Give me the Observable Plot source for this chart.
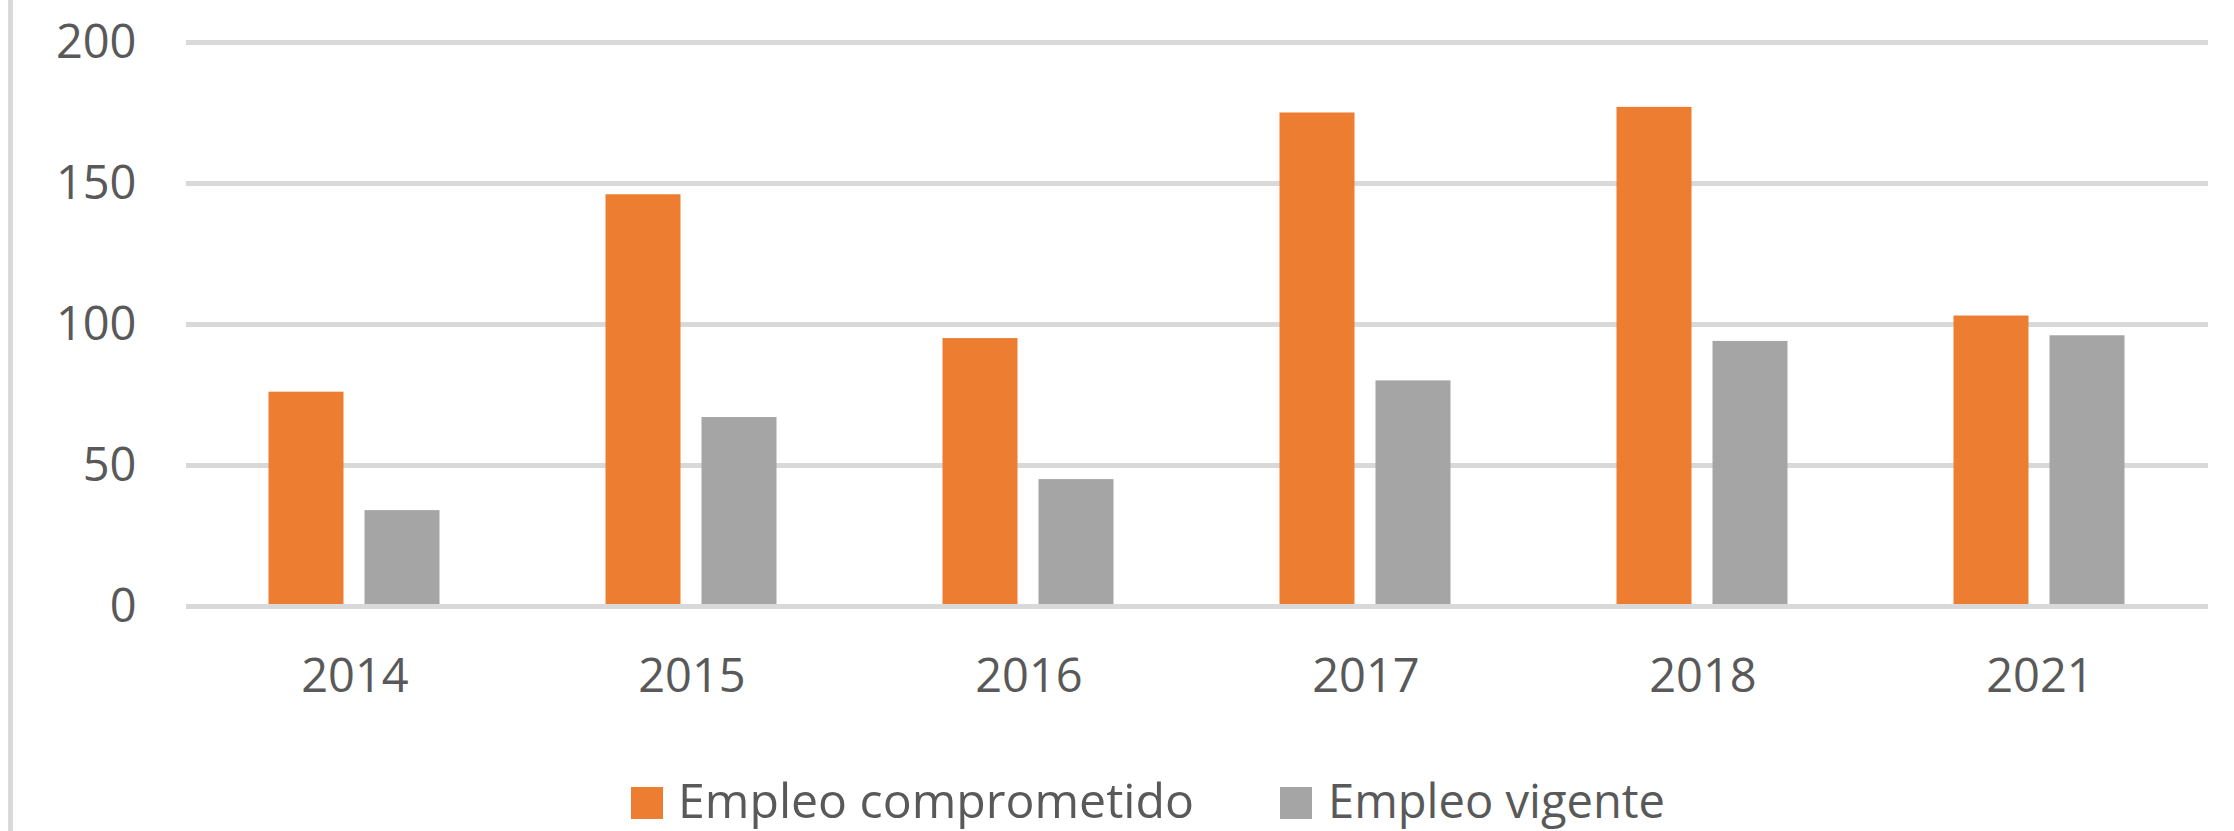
<!DOCTYPE html>
<html>
<head>
<meta charset="utf-8">
<script src="https://cdn.jsdelivr.net/npm/d3@7"></script>
<script src="https://cdn.jsdelivr.net/npm/@observablehq/plot@0.6"></script>
<style>
  html, body { margin: 0; padding: 0; background: #fff; }
  #wrap { position: relative; width: 2234px; height: 831px; overflow: hidden; background: #fff; }
  #border { position: absolute; left: 7.5px; top: 0; width: 5px; height: 831px; background: #d9d9d9; z-index: 2; }
  #chart svg, #legend svg { display: block; }
</style>
</head>
<body>
<div id="wrap">
  <div id="border"></div>
  <div id="chart"></div>
  <div id="legend"></div>
</div>
<script>
const years = ["2014", "2015", "2016", "2017", "2018", "2021"];
const series = ["Empleo comprometido", "Empleo vigente"];
const comprometido = [76, 146, 95, 175, 177, 103];
const vigente = [34, 67, 45, 80, 94, 96];
const yTicks = [0, 50, 100, 150, 200];
const colors = ["#ED7D31", "#A5A5A5"];

const data = years.flatMap((yr, i) => [
  {year: yr, serie: series[0], value: comprometido[i]},
  {year: yr, serie: series[1], value: vigente[i]}
]);

const font = "'Open Sans', 'DejaVu Sans', sans-serif";
const textColor = "#595959";
const gridColor = "#d9d9d9";

const chart = Plot.plot({
  width: 2234,
  height: 740,
  marginTop: 42,
  marginBottom: 134,
  marginLeft: 185.5,
  marginRight: 26.5,
  style: {fontFamily: font, fontSize: "47px", color: textColor, background: "transparent", overflow: "visible"},
  fx: {domain: years, padding: 0, label: null, tickSize: 0, tickPadding: 52, axis: "bottom"},
  x: {domain: series, paddingInner: 0.2176, paddingOuter: 0.855, axis: null},
  y: {domain: [0, 200], ticks: yTicks, tickSize: 0, tickPadding: 50, label: null},
  color: {domain: series, range: colors},
  marks: [
    Plot.ruleY(yTicks.filter(d => d > 0), {stroke: gridColor, strokeWidth: 5}),
    Plot.barY(data, {fx: "year", x: "serie", y: "value", fill: "serie"}),
    Plot.ruleY([0], {stroke: gridColor, strokeWidth: 5})
  ]
});
document.getElementById("chart").appendChild(chart);

// Legend below the chart
const legendItems = [
  {label: series[0], color: colors[0], sx: 631, tx: 678, tl: 516},
  {label: series[1], color: colors[1], sx: 1280, tx: 1328, tl: 337}
];
const lsvg = d3.select("#legend").append("svg")
  .attr("width", 2234).attr("height", 91);
const g = lsvg.selectAll("g").data(legendItems).join("g");
g.append("rect")
  .attr("x", d => d.sx).attr("y", 47).attr("width", 32).attr("height", 32)
  .attr("fill", d => d.color);
g.append("text")
  .attr("x", d => d.tx).attr("y", 78)
  .attr("font-family", font).attr("font-size", 48).attr("fill", textColor)
  .attr("textLength", d => d.tl).attr("lengthAdjust", "spacingAndGlyphs")
  .text(d => d.label);
</script>
</body>
</html>
